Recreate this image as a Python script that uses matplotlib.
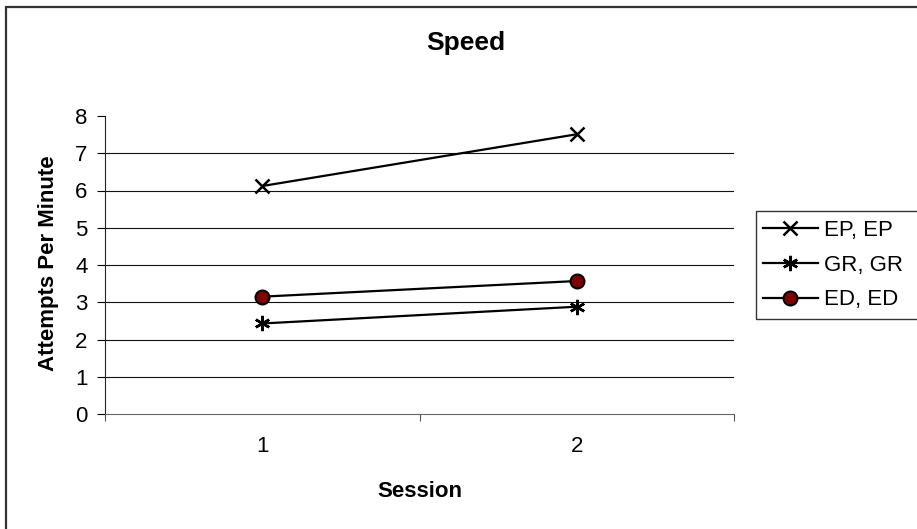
import matplotlib.pyplot as plt
from matplotlib.patches import Rectangle

plt.rcParams["font.family"] = ["Liberation Sans", "DejaVu Sans"]

# ------------------------------------------------------------------
# Data
# ------------------------------------------------------------------
sessions = [1, 2]
session_labels = ["1", "2"]
ep_values = [6.12, 7.51]
gr_values = [2.43, 2.88]
ed_values = [3.15, 3.57]
y_ticks = [0, 1, 2, 3, 4, 5, 6, 7, 8]

W, H = 917, 529


def main() -> None:
    fig = plt.figure(figsize=(W / 100, H / 100), dpi=100)
    ax = fig.add_axes([105 / W, 1 - 414 / H, 629 / W, 298 / H])

    # outer chart frame (cropped on the right/bottom in the reference)
    fig.patches.append(
        Rectangle((6 / W, -0.1), 1.2, 1 - 7.5 / H + 0.1,
                  transform=fig.transFigure, fill=False,
                  edgecolor="#333333", linewidth=1.6)
    )
    # legend frame, also running off the right edge
    fig.patches.append(
        Rectangle((756 / W, 1 - 319 / H), 0.2, 108 / H,
                  transform=fig.transFigure, fill=False,
                  edgecolor="#333333", linewidth=1)
    )

    ax.plot(sessions, ep_values, color="black", linewidth=1.6,
            marker="x", markersize=10.5, markeredgewidth=1.8,
            label="EP, EP", zorder=3)
    ax.plot(sessions, gr_values, color="black", linewidth=1.6,
            marker=(6, 2, 0), markersize=11, markeredgewidth=1.8,
            label="GR, GR", zorder=3)
    ax.plot(sessions, ed_values, color="black", linewidth=1.6,
            marker="o", markersize=10, markerfacecolor="#800000",
            markeredgecolor="black", markeredgewidth=1.5,
            label="ED, ED", zorder=3)

    ax.set_xlim(0.5, 2.5)
    ax.set_ylim(0, 8)
    ax.set_yticks(y_ticks)
    ax.set_xticks([0.5, 1.5, 2.5])
    ax.set_xticklabels([])
    ax.set_xticks(sessions, minor=True)
    ax.set_xticklabels(session_labels, minor=True)
    ax.tick_params(axis="x", which="minor", length=0, pad=16, labelsize=16)
    ax.tick_params(axis="x", which="major", length=5, direction="out",
                   color="#555555")
    ax.tick_params(axis="y", length=5.5, direction="out", labelsize=16,
                   pad=7)

    # horizontal grid lines between 1 and 7
    for v in y_ticks[1:-1]:
        ax.axhline(v, color="#111111", linewidth=0.8, zorder=1)

    for side in ["top", "right"]:
        ax.spines[side].set_visible(False)
    ax.spines["left"].set_color("#222222")
    ax.spines["bottom"].set_color("#666666")

    # title is centred on the whole chart area, axis titles on the plot area
    fig.text(466 / W, 1 - 50 / H, "Speed", fontsize=19, fontweight="bold",
             ha="center", va="baseline")
    fig.text(420 / W, 1 - 497 / H, "Session", fontsize=16,
             fontweight="bold", ha="center", va="baseline")
    fig.text(49 / W, 1 - 263 / H, "Attempts Per Minute", fontsize=16,
             fontweight="bold", ha="center", va="center", rotation=90)

    ax.legend(loc="center left", bbox_to_anchor=(756 / W, 1 - 265 / H),
              bbox_transform=fig.transFigure, fontsize=16,
              frameon=False, handlelength=2.5,
              handletextpad=0.25, borderpad=0.3, labelspacing=0.62,
              borderaxespad=0)

    fig.savefig("out.png", dpi=100)
    plt.close(fig)


if __name__ == "__main__":
    main()
